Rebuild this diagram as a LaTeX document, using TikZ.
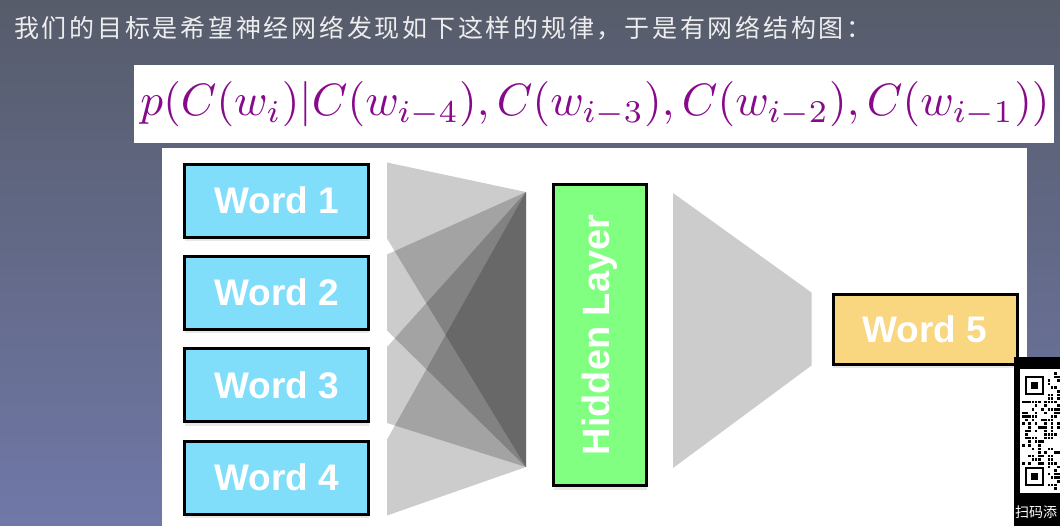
\documentclass[tikz,border=0pt]{standalone}
\usepackage{fontspec}
\usepackage{graphicx}
\setsansfont{Liberation Sans}
\newfontfamily\cjk[LetterSpace=11]{Noto Sans CJK SC}
\newfontfamily\cjkqr{Noto Sans CJK SC}
\usetikzlibrary{shadows}
\definecolor{wordblue}{RGB}{128,222,250}
\definecolor{hidgreen}{RGB}{128,255,128}
\definecolor{outyellow}{RGB}{249,214,128}
\definecolor{formpurple}{RGB}{135,10,140}
\definecolor{slidetop}{RGB}{86,92,106}
\definecolor{slidebot}{RGB}{112,120,168}

\begin{document}
\begin{tikzpicture}[x=1pt,y=-1pt,
  wordbox/.style={draw=black,line width=3pt,minimum width=184pt,minimum height=73pt,inner sep=0pt,
    font=\sffamily\bfseries\fontsize{37}{40}\selectfont,text=white,
    drop shadow={opacity=0.18,shadow xshift=0pt,shadow yshift=-4pt}},
  fan/.style={fill=black,fill opacity=0.2}]
\useasboundingbox (0,0) rectangle (1060,525);
\clip (0,0) rectangle (1060,525);
\shade[top color=slidetop,bottom color=slidebot] (0,0) rectangle (1060,525);
\node[anchor=west,inner sep=0pt,text=white!93!black,font=\cjk\fontsize{25}{28}\selectfont] (title) at (14,28) {我们的目标是希望神经网络发现如下这样的规律，于是有网络结构图：};
\fill[white] (134,65) rectangle (1054,143);
\node[text=formpurple,inner sep=0pt] (formula) at (595,104) {\resizebox{909pt}{!}{$p(C(w_i)|C(w_{i-4}),C(w_{i-3}),C(w_{i-2}),C(w_{i-1}))$}};
\fill[white] (162,148) rectangle (1027,530);
\foreach \i/\y in {1/200.5,2/292.5,3/385,4/477.5}
  \node[wordbox,fill=wordblue] (w\i) at (276.5,\y) {Word \i};
\node[wordbox,fill=hidgreen,minimum width=93pt,minimum height=301pt,font=\sffamily\bfseries\fontsize{38}{40}\selectfont] (hidden) at (600,335) {\rotatebox{90}{Hidden Layer}};
\node[wordbox,fill=outyellow,minimum height=70pt] (w5) at (925,329) {Word 5};
\coordinate (hin1) at (526,192);
\coordinate (hin2) at (526,467);
\foreach \i in {1,...,4}
  \fill[fan] ([xshift=17pt]w\i.north east) -- (hin1) -- (hin2) -- ([xshift=17pt]w\i.south east) -- cycle;
\fill[black!20] ([shift={(25,10)}]hidden.north east) -- ([xshift=-20pt]w5.north west) -- ([xshift=-20pt]w5.south west) -- ([shift={(25,-19)}]hidden.south east) -- cycle;
\fill[black] (1014,357) rectangle (1070,530);
\fill[white] (1020,369) rectangle (1070,493);
\foreach \y in {377,468} {
  \draw[line width=2.5pt] (1026,\y) rectangle ++(17,17);
  \fill (1031,\y+5) rectangle ++(7,7);
}
\pgfmathsetseed{11}
\foreach \i in {0,...,12} \foreach \j in {0,...,32} {
  \pgfmathsetmacro\qx{1022+3.2*\i}
  \pgfmathsetmacro\qy{372+3.6*\j}
  \pgfmathparse{and(rnd<0.45,or(\qx>1045,and(\qy>398,\qy<465)))}
  \ifdim\pgfmathresult pt>0.5pt \fill (\qx,\qy) rectangle ++(2.6,2.6);\fi
}
\node[anchor=west,inner sep=0pt,text=white,font=\cjkqr\fontsize{14}{16}\selectfont] (qrtext) at (1015,512) {扫码添};
\end{tikzpicture}
\end{document}
